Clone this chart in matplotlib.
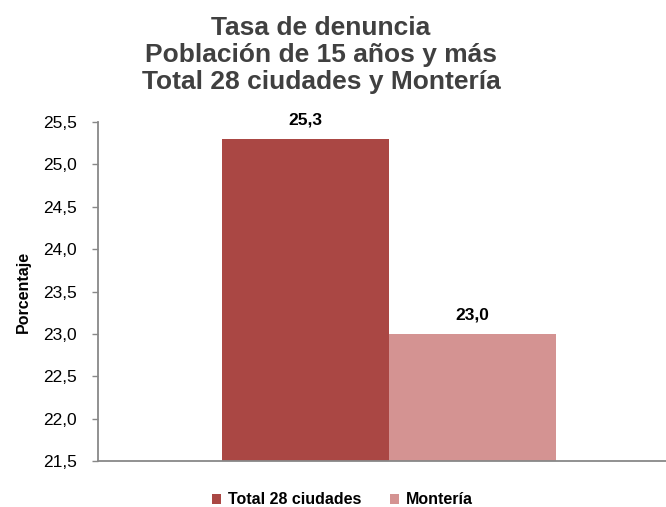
import matplotlib.pyplot as plt
from matplotlib.ticker import FuncFormatter, MultipleLocator

plt.rcParams['font.family'] = ['Liberation Sans', 'DejaVu Sans']

series = ["Total 28 ciudades", "Montería"]
values = [25.3, 23.0]
colors = ["#AA4744", "#D49392"]
title = "Tasa de denuncia\nPoblación de 15 años y más\nTotal 28 ciudades y Montería"

fig = plt.figure(figsize=(6.66, 5.07), dpi=100)
ax = fig.add_axes([98 / 666, 46 / 507, 568 / 666, 339 / 507])

width = 0.294
offsets = [-width / 2, width / 2]
for name, val, col, off in zip(series, values, colors, offsets):
    ax.bar(off, val - 21.5, width, bottom=21.5, color=col, label=name)
    ax.text(off, val + 0.14, f"{val:.1f}".replace(".", ","), ha="center", va="bottom",
            fontsize=12.5, fontweight="bold", color="black")

ax.set_xlim(-0.512, 0.488)
ax.set_ylim(21.5, 25.5)
ax.yaxis.set_major_locator(MultipleLocator(0.5))
ax.yaxis.set_major_formatter(FuncFormatter(lambda v, p: f"{v:.1f}".replace(".", ",")))
ax.set_xticks([])
ax.tick_params(axis="y", length=4, width=1, color="#888888", labelsize=12.5, pad=11)

for s in ["top", "right"]:
    ax.spines[s].set_visible(False)
for s in ["left", "bottom"]:
    ax.spines[s].set_color("#888888")
    ax.spines[s].set_linewidth(1.3)

ax.set_ylabel("Porcentaje", fontsize=11.5, fontweight="bold", labelpad=9)

fig.text(0.482, 0.968, title, ha="center", va="top", fontsize=19, fontweight="bold",
         color="#404040", linespacing=1.16)

ax.legend(loc="upper center", bbox_to_anchor=(0.43, -0.05), ncol=2, frameon=False,
          prop={"weight": "bold", "size": 11.5}, handlelength=0.6, handleheight=0.6,
          handletextpad=0.4, columnspacing=1.8)

fig.savefig("out.png", dpi=100)
